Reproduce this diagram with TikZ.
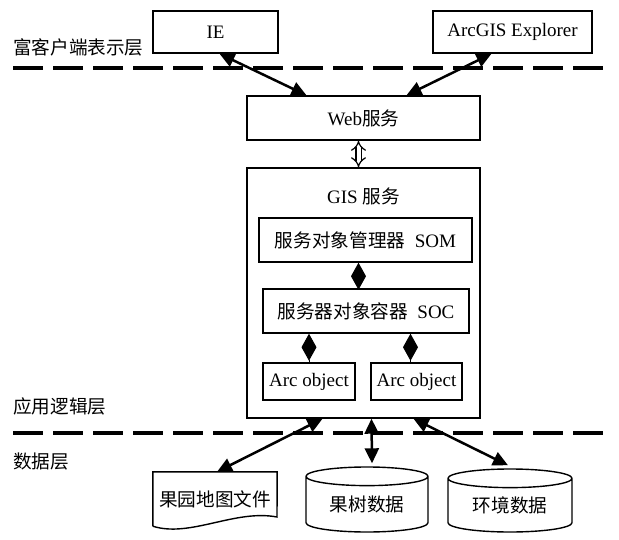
\documentclass[tikz,border=0pt]{standalone}
\usepackage{fontspec}
\setmainfont{Liberation Serif}
\newfontfamily\cjk[Scale=0.98]{Noto Sans CJK SC}
\usetikzlibrary{arrows.meta,shapes.geometric}
\newcommand{\zw}[1]{{\cjk #1}}
\begin{document}
\begin{tikzpicture}[x=1pt,y=-1pt,font=\fontsize{19}{22}\selectfont,
    box/.style={draw,line width=1.4pt,inner sep=0pt},
    store/.style={draw,line width=1.4pt,cylinder,shape border rotate=90,aspect=0.25,inner sep=0pt},
    link/.style={line width=2.5pt,{Triangle[length=15pt,width=14pt]}-{Triangle[length=15pt,width=14pt]}},
    owns/.style={line width=1pt,{Diamond[length=27pt,width=15pt]}-},
    layer/.style={line width=4pt,dash pattern=on 30pt off 10pt},
    tag/.style={anchor=west,inner sep=0pt}]
  \useasboundingbox (0,0) rectangle (619,539);
  % layers
  \draw[layer] (13,68) -- (605,68);
  \draw[layer] (13,433) -- (605,433);
  \node[tag] (rich) at (13,47) {\zw{富客户端表示层}};
  \node[tag] (logic) at (13,406) {\zw{应用逻辑层}};
  \node[tag] (data) at (13,461) {\zw{数据层}};
  % clients
  \node[box,minimum width=125pt,minimum height=42pt] (ie) at (215.5,32) {IE};
  \node[box,minimum width=159pt,minimum height=42pt] (explorer) at (512.5,32) {ArcGIS Explorer};
  % services
  \node[box,minimum width=233pt,minimum height=44pt] (web) at (363.5,118) {Web\zw{服务}};
  \node[box,minimum width=233pt,minimum height=250pt] (gis) at (363.5,293) {};
  \node (gistitle) at (363.5,196) {GIS \zw{服务}};
  \node[box,minimum width=213pt,minimum height=44pt] (som) at (365.5,240) {\zw{服务对象管理器}~~SOM};
  \node[box,minimum width=206pt,minimum height=44pt] (soc) at (366,311) {\zw{服务器对象容器}~~SOC};
  \node[box,minimum width=92pt,minimum height=37pt] (arc1) at (309,381.5) {Arc object};
  \node[box,minimum width=91pt,minimum height=37pt] (arc2) at (416.5,381.5) {Arc object};
  % data
  \node[inner sep=0pt,minimum width=124pt,minimum height=54pt] (mapfile) at (215,499) {\zw{果园地图文件}};
  \draw[line width=1.4pt] (mapfile.south west) -- (mapfile.north west) -- (mapfile.north east)
    -- (277,517) .. controls (235,509) and (190,538) .. (mapfile.south west);
  \node[store,minimum width=122pt,minimum height=65pt] (trees) at (367,504.5) {\zw{果树数据}};
  \node[store,minimum width=124pt,minimum height=63pt] (env) at (510,505.5) {\zw{环境数据}};
  % links
  \draw[link] ([xshift=4pt]ie.south) -- ([xshift=-57pt]web.north);
  \draw[link] ([xshift=-21pt]explorer.south) -- ([xshift=43pt]web.north);
  \draw[line width=1.2pt,double distance=4pt,{Implies}-{Implies}] ([xshift=-5pt]web.south) -- ([xshift=-5pt]web.south |- gis.north);
  \draw[owns] ([xshift=-7pt]som.south) -- ([xshift=-7pt]som.south |- soc.north);
  \draw[owns] (soc.south -| arc1.north) -- (arc1.north);
  \draw[owns] (soc.south -| arc2.north) ++(-6,0) -- ([xshift=-6pt]arc2.north);
  \draw[link] ([xshift=-41pt]gis.south) -- ([xshift=2pt]mapfile.north);
  \draw[link] ([xshift=8pt]gis.south) -- ([xshift=5pt,yshift=3pt]trees.top);
  \draw[link] ([xshift=50pt]gis.south) -- ([xshift=-2pt,yshift=3pt]env.top);
\end{tikzpicture}
\end{document}
